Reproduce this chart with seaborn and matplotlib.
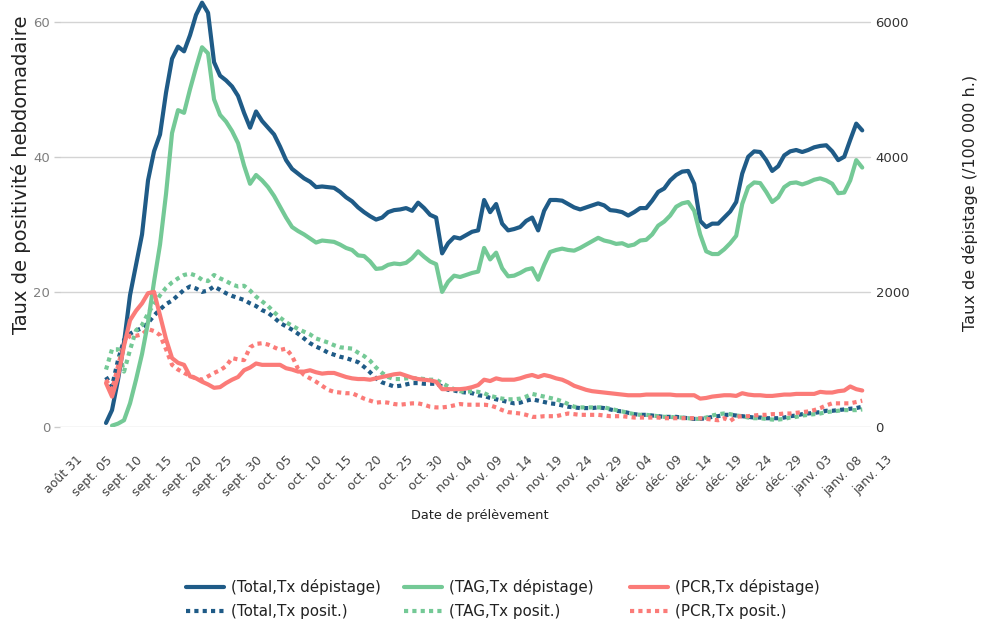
import matplotlib
matplotlib.use("Agg")
import matplotlib.pyplot as plt
import seaborn as sns
import pandas as pd
from matplotlib.lines import Line2D

# ---------------- data ----------------
start_main = "2021-09-05"   # first day of Total / PCR series
start_tag = "2021-09-06"    # first day of TAG dépistage series

# Taux de dépistage (/100 000 h.)  -> right axis
total_dep = [60, 250, 700, 1250, 1950, 2400, 2850, 3650, 4080, 4330, 4950, 5450, 5630, 5560, 5800,
             6100, 6280, 6130, 5400, 5200, 5130, 5040, 4900, 4650, 4430, 4670, 4530, 4430, 4330, 4150,
             3950, 3820, 3750, 3680, 3630, 3550, 3560, 3550, 3540, 3480, 3400, 3340, 3250,
             3180, 3120, 3070, 3100, 3180, 3210, 3220, 3240, 3200, 3320, 3240, 3140, 3100, 2570, 2720,
             2810, 2790, 2840, 2890, 2910,
             3360, 3180, 3300, 3010, 2910, 2930, 2960, 3050, 3100, 2910, 3200, 3360, 3360, 3350, 3300,
             3250, 3220, 3250, 3280, 3310, 3280,
             3210, 3200, 3180, 3130, 3180, 3240, 3240, 3350, 3480, 3530, 3650, 3730, 3780, 3790, 3600,
             3050, 2960, 3010, 3010, 3100,
             3190, 3330, 3750, 4000, 4080, 4070, 3950, 3790, 3860, 4020, 4080, 4100, 4070, 4100, 4140,
             4160, 4170, 4080, 3950, 4000, 4250, 4490, 4390]

tag_dep = [20, 50, 100, 350, 700, 1080, 1550, 2150, 2700, 3450, 4350, 4690, 4650, 5000, 5320,
           5620, 5530, 4850, 4620, 4520, 4380, 4200, 3870, 3600, 3730, 3650, 3550, 3420, 3260, 3100,
           2960, 2900, 2850, 2790, 2730, 2760, 2750, 2740, 2700, 2650, 2620, 2540,
           2530, 2450, 2340, 2350, 2400, 2420, 2410, 2430, 2500, 2600, 2520, 2450, 2410, 2000, 2150,
           2240, 2220, 2250, 2280, 2300,
           2650, 2480, 2580, 2350, 2230, 2240, 2280, 2330, 2350, 2180, 2400, 2590, 2620, 2640, 2620,
           2610, 2650, 2700, 2750, 2800, 2760,
           2740, 2710, 2720, 2680, 2700, 2760, 2770, 2850, 2980, 3040, 3130, 3260, 3310, 3330, 3200,
           2850, 2600, 2560, 2560, 2630,
           2720, 2830, 3300, 3550, 3620, 3610, 3480, 3330, 3400, 3550, 3610, 3620, 3590, 3620, 3660,
           3680, 3650, 3600, 3460, 3470, 3650, 3950, 3840]

pcr_dep = [650, 450, 750, 1200, 1580, 1720, 1830, 1980, 2000, 1650, 1300, 1020, 950, 920, 750,
           720, 670, 630, 580, 590, 650, 700, 740, 840, 880, 940, 920, 920, 920, 920,
           870, 850, 820, 820, 840, 810, 790, 800, 800, 770, 740, 720, 710,
           710, 700, 720, 740, 760, 780, 790, 760, 730, 710, 700, 690, 670, 560, 560,
           560, 560, 570, 590, 620,
           700, 680, 720, 700, 700, 700, 720, 750, 770, 740, 770, 750, 720, 700, 660,
           610, 580, 550, 530, 520, 510,
           500, 490, 480, 470, 470, 470, 480, 480, 480, 480, 480, 470, 470, 470, 470,
           420, 430, 450, 460, 470,
           470, 460, 500, 480, 470, 470, 460, 460, 470, 480, 480, 490, 490, 490, 490,
           520, 510, 510, 530, 540, 600, 560, 540]

# Taux de positivité hebdomadaire (%) -> left axis
total_pos = [7.4, 6, 9.9, 12.9, 13.8, 14.3, 14.6, 15.4, 16.5, 17.4, 18.2, 18.7, 19.5, 20.3, 20.8,
             20.5, 20, 20.2, 20.8, 20.3, 19.8, 19.4, 19.1, 18.8, 18.3, 17.9, 17.3, 16.9, 16.2, 15.4,
             14.9, 14.4, 13.8, 13.1, 12.4, 11.9, 11.5, 11, 10.7, 10.4, 10.2, 9.9, 9.6,
             8.9, 8.1, 7.2, 6.6, 6.3, 6, 6.1, 6.3, 6.5, 6.5, 6.4, 6.4, 6.4, 6, 5.5, 5.4, 5.2, 5.1, 5, 4.7,
             4.6, 4.3, 4.1, 3.9, 3.7, 3.5, 3.6, 3.9, 4.1, 3.9, 3.7, 3.5, 3.4, 3.2, 3, 2.9, 2.8, 2.8, 2.8,
             2.9, 2.8,
             2.6, 2.4, 2.3, 2.1, 1.9, 1.8, 1.8, 1.7, 1.6, 1.5, 1.5, 1.5, 1.4, 1.3, 1.2, 1.2, 1.3, 1.5,
             1.6, 1.8,
             1.8, 1.7, 1.6, 1.5, 1.4, 1.4, 1.3, 1.3, 1.3, 1.4, 1.6, 1.7, 1.9, 2, 2.1, 2.2, 2.4, 2.4,
             2.5, 2.6, 2.7, 2.8, 3]

tag_pos = [8.5, 11.5, 11.5, 8.2, 11.4, 14.3, 15.1, 16.8, 18.2, 19.5, 20.6, 21.4, 22, 22.5, 22.7,
           22.4, 21.8, 21.6, 22.5, 22, 21.6, 21.1, 20.8, 20.9, 20.2, 19.3, 18.6, 17.9, 17, 16.2,
           15.5, 15, 14.5, 14.1, 13.7, 13.1, 12.8, 12.5, 12.1, 11.8, 11.7, 11.6, 11,
           10.5, 9.8, 8.8, 8, 7.4, 7.1, 7.1, 7.2, 7.2, 7.2, 7.1, 7, 7, 6.5, 6, 5.6, 5.3, 5.2, 5.3, 5.2,
           5, 4.6, 4.4, 4.2, 4.1, 4.1, 4.2, 4.5, 4.9, 4.7, 4.5, 4.3, 4.1, 3.8, 3.4, 3, 2.9, 2.9, 2.9,
           2.9, 2.9,
           2.7, 2.5, 2.3, 2.1, 1.9, 1.8, 1.8, 1.7, 1.6, 1.5, 1.5, 1.4, 1.4, 1.3, 1.2, 1.2, 1.4, 1.7,
           1.9, 2,
           1.9, 1.7, 1.6, 1.4, 1.3, 1.3, 1.2, 1.1, 1.1, 1.2, 1.4, 1.5, 1.7, 1.8, 1.9, 2, 2.2, 2.3,
           2.4, 2.5, 2.5, 2.5, 2.6]

pcr_pos = [7, 5.5, 9, 12.5, 13.5, 13.5, 13.7, 14.5, 14.2, 13.6, 11.5, 9.2, 8.5, 8, 7.6,
           7.2, 7, 7.5, 8, 8.4, 9, 10.2, 10, 9.9, 11.8, 12.3, 12.4, 12.2, 11.8, 11.4,
           11.6, 10.5, 8.6, 7.7, 7.2, 6.7, 6.1, 5.5, 5.2, 5.1, 5, 5, 4.6,
           4.2, 3.9, 3.6, 3.7, 3.6, 3.4, 3.3, 3.4, 3.5, 3.5, 3.3, 3, 2.9, 2.9, 3, 3.2, 3.4, 3.3, 3.3, 3.3,
           3.3, 3.2, 2.9, 2.5, 2.2, 2.1, 2, 1.8, 1.5, 1.5, 1.6, 1.6, 1.6, 1.8, 2, 1.9, 1.8, 1.8, 1.8,
           1.8, 1.7,
           1.6, 1.6, 1.6, 1.5, 1.4, 1.4, 1.4, 1.4, 1.4, 1.3, 1.3, 1.3, 1.3, 1.3, 1.3, 1.3, 1.2, 1.1,
           1, 1.3,
           0.9, 1.5, 1.6, 1.6, 1.7, 1.8, 1.8, 1.9, 1.9, 2, 2, 2.1, 2.2, 2.3, 2.5, 2.8, 3.2, 3.5,
           3.5, 3.5, 3.5, 3.7, 3.9]

tick_labels = ["août 31", "sept. 05", "sept. 10", "sept. 15", "sept. 20", "sept. 25", "sept. 30",
               "oct. 05", "oct. 10", "oct. 15", "oct. 20", "oct. 25", "oct. 30", "nov. 04",
               "nov. 09", "nov. 14", "nov. 19", "nov. 24", "nov. 29", "déc. 04", "déc. 09",
               "déc. 14", "déc. 19", "déc. 24", "déc. 29", "janv. 03", "janv. 08", "janv. 13"]
tick_start = "2021-08-31"

left_ticks = [0, 20, 40, 60]
right_ticks = [0, 2000, 4000, 6000]

series_names = ["(Total,Tx dépistage)", "(TAG,Tx dépistage)", "(PCR,Tx dépistage)",
                "(Total,Tx posit.)", "(TAG,Tx posit.)", "(PCR,Tx posit.)"]
colors = {"Total": "#1f5b87", "TAG": "#74c996", "PCR": "#fb7b78"}

# ---------------- figure ----------------
sns.set_theme(style="white")
plt.rcParams['font.family'] = ['DejaVu Sans']

W, H = 981, 624
fig = plt.figure(figsize=(W / 100, H / 100), dpi=100)
left_px, right_px, top_px, bottom_px = 60, 888, 0, 427
ax = fig.add_axes([left_px / W, 1 - bottom_px / H, (right_px - left_px) / W, (bottom_px - top_px) / H])
ax2 = ax.twinx()

d_main = pd.date_range(start_main, periods=len(total_dep), freq="D")
d_tag = pd.date_range(start_tag, periods=len(tag_dep), freq="D")

LW = 3.0
DOT = (0, (1, 1))

# horizontal grid lines (ending just before the right-hand tick labels)
grid_end = (870 - left_px) / (right_px - left_px)
for v in left_ticks:
    ax.axhline(v, xmin=0, xmax=grid_end, color="#d4d4d4", lw=1, zorder=0)

# dotted positivity lines on the left axis
for vals, key in [(total_pos, "Total"), (tag_pos, "TAG"), (pcr_pos, "PCR")]:
    df = pd.DataFrame({"date": pd.date_range(start_main, periods=len(vals), freq="D"), "v": vals})
    sns.lineplot(data=df, x="date", y="v", ax=ax, color=colors[key], lw=LW,
                 linestyle=DOT, dash_capstyle="butt", legend=False)

# solid screening-rate lines on the right axis
for vals, dates, key in [(total_dep, d_main, "Total"), (tag_dep, d_tag, "TAG"), (pcr_dep, d_main, "PCR")]:
    df = pd.DataFrame({"date": dates, "v": vals})
    sns.lineplot(data=df, x="date", y="v", ax=ax2, color=colors[key], lw=LW,
                 solid_joinstyle="round", legend=False)

# axes ranges
x0 = pd.Timestamp(tick_start) - pd.Timedelta(hours=64)
x1 = pd.Timestamp(tick_start) + pd.Timedelta(days=135, hours=7)
ax.set_xlim(x0, x1)
ax.set_ylim(0, 63.2)
ax2.set_ylim(0, 6320)

ax.set_yticks(left_ticks)
ax2.set_yticks(right_ticks)
ticks = pd.date_range(tick_start, periods=len(tick_labels), freq="5D")
ax.set_xticks(ticks)
ax.set_xticklabels(tick_labels, rotation=45, ha="right", va="top", rotation_mode="anchor",
                   fontsize=9, color="#444444")

ax.grid(False)
ax2.grid(False)
for a in (ax, ax2):
    for s in a.spines.values():
        s.set_visible(False)
    a.set_xlabel("")
    a.set_ylabel("")

ax.tick_params(axis="x", length=0, pad=19)
ax.tick_params(axis="y", length=4, width=1, color="#cccccc", labelsize=9.5, labelcolor="#7f7f7f", pad=3)
ax2.tick_params(axis="y", length=0, labelsize=9.5, labelcolor="#333333", pad=-9)

# axis titles
fig.text(21 / W, 1 - 175 / H, "Taux de positivité hebdomadaire", rotation=90, ha="center", va="center",
         fontsize=14, color="#222222")
fig.text(970 / W, 1 - 203 / H, "Taux de dépistage (/100 000 h.)", rotation=90, ha="center", va="center",
         fontsize=11.5, color="#222222")
fig.text(480 / W, 1 - 515 / H, "Date de prélèvement", ha="center", va="center", fontsize=9.3,
         color="#222222")

# legend: three columns, solid on the first row, dotted on the second
legend_cols = [("Total", 0, 186), ("TAG", 1, 404), ("PCR", 2, 630)]
for key, i, xpx in legend_cols:
    hs = [Line2D([], [], color=colors[key], lw=LW),
          Line2D([], [], color=colors[key], lw=LW, linestyle=DOT, dash_capstyle="butt")]
    lg = fig.legend(hs, [series_names[i], series_names[i + 3]], loc="upper left",
                    bbox_to_anchor=(xpx / W, 1 - 579 / H), frameon=False, fontsize=10.9,
                    handlelength=2.5, handletextpad=0.45, labelspacing=0.62, borderpad=0,
                    borderaxespad=0, labelcolor="#222222")

fig.savefig("out.png", dpi=100)
